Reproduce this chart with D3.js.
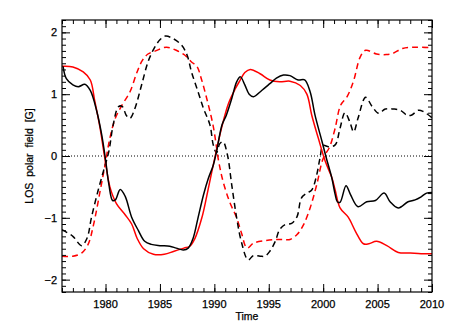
<!DOCTYPE html>
<html>
<head>
<meta charset="utf-8">
<script src="https://cdn.jsdelivr.net/npm/d3@7"></script>
<style>
  body { margin: 0; background: #fff; }
  svg text { font-family: "Liberation Sans", Arial, sans-serif; fill: #000; stroke: #000; stroke-width: 0.25; }
</style>
</head>
<body>
<div id="chart"></div>
<script>
// Series: [year, field in G]
const blackSolid = [
  [1976.1, 1.45], [1976.4, 1.25], [1977.0, 1.15], [1977.5, 1.12], [1978.1, 1.16], [1978.6, 1.06],
  [1979.2, 0.72], [1979.65, 0.34], [1980.0, -0.06], [1980.3, -0.45], [1980.65, -0.72], [1980.9, -0.71],
  [1981.35, -0.54], [1981.8, -0.65], [1982.4, -0.99], [1983.0, -1.2], [1983.6, -1.38], [1984.2, -1.43],
  [1985.0, -1.45], [1985.9, -1.46], [1986.5, -1.49], [1987.15, -1.52], [1987.6, -1.49], [1988.05, -1.33],
  [1988.5, -1.0], [1989.0, -0.63], [1989.45, -0.36], [1989.9, -0.15], [1990.2, 0.07], [1990.7, 0.5],
  [1991.1, 0.66], [1991.6, 0.93], [1992.05, 1.2], [1992.4, 1.28], [1992.8, 1.15], [1993.2, 1.0],
  [1993.6, 0.96], [1994.35, 1.06], [1995.1, 1.17], [1995.7, 1.26], [1996.35, 1.31], [1996.95, 1.30],
  [1997.7, 1.23], [1998.3, 1.23], [1998.8, 1.04], [1999.25, 0.66], [1999.9, 0.23], [2000.3, -0.04],
  [2000.8, -0.36], [2001.1, -0.62], [2001.3, -0.74], [2001.55, -0.75], [2002.1, -0.48], [2002.5, -0.62],
  [2003.2, -0.82], [2004.0, -0.74], [2004.8, -0.72], [2005.6, -0.60], [2006.15, -0.74], [2006.9, -0.84],
  [2007.8, -0.74], [2008.45, -0.71], [2009.0, -0.66], [2009.5, -0.60], [2010.0, -0.59]
];

const redSolid = [
  [1976.0, 1.45], [1977.0, 1.44], [1977.95, 1.36], [1978.6, 1.23], [1979.0, 0.9], [1979.5, 0.45],
  [1979.95, -0.05], [1980.4, -0.5], [1981.0, -0.77], [1981.8, -0.95], [1982.4, -1.1], [1982.9, -1.33],
  [1983.5, -1.5], [1984.4, -1.59], [1985.4, -1.59], [1986.3, -1.54], [1987.2, -1.49], [1987.75, -1.46],
  [1988.2, -1.34], [1988.85, -1.0], [1989.3, -0.65], [1989.75, -0.27], [1990.2, 0.1], [1990.7, 0.48],
  [1991.3, 0.85], [1991.9, 1.08], [1992.35, 1.22], [1992.8, 1.35], [1993.3, 1.40], [1994.2, 1.33],
  [1995.1, 1.23], [1996.0, 1.20], [1996.95, 1.21], [1997.9, 1.14], [1998.5, 1.0], [1998.95, 0.66],
  [1999.55, 0.29], [2000.2, -0.09], [2000.8, -0.35], [2001.1, -0.55], [2001.55, -0.84], [2002.3, -0.99],
  [2003.0, -1.23], [2003.7, -1.42], [2004.2, -1.42], [2004.9, -1.38], [2005.85, -1.45], [2006.9, -1.56],
  [2008.0, -1.57], [2009.0, -1.58], [2010.0, -1.58]
];

const blackDashed = [
  [1976.0, -1.19], [1977.0, -1.30], [1977.8, -1.45], [1978.3, -1.33], [1978.7, -1.0], [1979.3, -0.57],
  [1979.8, -0.25], [1980.3, 0.07], [1980.7, 0.5], [1981.2, 0.80], [1981.55, 0.80], [1981.9, 0.66],
  [1982.25, 0.61], [1982.7, 0.77], [1983.3, 1.14], [1983.9, 1.52], [1984.4, 1.72], [1985.0, 1.88],
  [1985.5, 1.94], [1986.2, 1.90], [1987.0, 1.79], [1987.5, 1.63], [1987.9, 1.36], [1988.5, 1.04],
  [1989.0, 0.77], [1989.6, 0.5], [1989.9, 0.18], [1990.2, 0.05], [1990.5, 0.2], [1990.8, 0.23],
  [1991.2, 0.02], [1991.6, -0.47], [1992.05, -1.0], [1992.5, -1.4], [1993.1, -1.68], [1993.6, -1.61],
  [1994.2, -1.62], [1994.65, -1.62], [1995.1, -1.54], [1995.6, -1.38], [1996.0, -1.19], [1996.5, -1.11],
  [1997.1, -1.09], [1997.6, -0.98], [1998.0, -0.68], [1998.5, -0.60], [1998.95, -0.55], [1999.4, -0.31],
  [1999.7, -0.04], [2000.0, 0.17], [2000.5, 0.15], [2001.1, 0.18], [2001.55, 0.45], [2002.0, 0.70],
  [2002.45, 0.55], [2002.8, 0.39], [2003.2, 0.61], [2003.9, 0.95], [2004.5, 0.80], [2005.1, 0.69],
  [2005.7, 0.76], [2006.45, 0.76], [2007.1, 0.74], [2007.7, 0.66], [2008.1, 0.66], [2008.75, 0.74],
  [2009.2, 0.72], [2010.0, 0.62]
];

const redDashed = [
  [1976.0, -1.62], [1977.0, -1.62], [1977.8, -1.57], [1978.4, -1.43], [1978.9, -1.11], [1979.5, -0.57],
  [1979.95, -0.15], [1980.4, 0.29], [1980.9, 0.61], [1981.5, 0.82], [1982.25, 1.04], [1982.9, 1.36],
  [1983.4, 1.55], [1983.9, 1.65], [1984.6, 1.70], [1985.6, 1.76], [1986.5, 1.71], [1987.3, 1.63],
  [1987.9, 1.52], [1988.4, 1.45], [1988.8, 1.25], [1989.3, 0.93], [1989.9, 0.48], [1990.4, -0.09],
  [1990.8, -0.41], [1991.4, -0.74], [1992.05, -1.0], [1992.5, -1.25], [1993.0, -1.49], [1993.6, -1.41],
  [1994.65, -1.37], [1995.6, -1.35], [1996.35, -1.35], [1996.95, -1.35], [1997.6, -1.27], [1998.2, -1.11],
  [1998.8, -0.84], [1999.4, -0.47], [2000.0, -0.04], [2000.6, 0.15], [2001.1, 0.45], [2001.6, 0.82],
  [2002.2, 0.96], [2002.8, 1.22], [2003.4, 1.6], [2003.9, 1.71], [2004.9, 1.65], [2005.8, 1.64],
  [2006.4, 1.66], [2007.3, 1.74], [2008.6, 1.76], [2010.0, 1.75]
];

const xTicks = [1980, 1985, 1990, 1995, 2000, 2005, 2010];
const yTicks = [-2, -1, 0, 1, 2];

const width = 451, height = 332;
const margin = { top: 20, right: 19, bottom: 40, left: 62 };

const svg = d3.select("#chart").append("svg")
  .attr("width", width)
  .attr("height", height);

const x = d3.scaleLinear().domain([1976, 2010]).range([margin.left, width - margin.right]);
const y = d3.scaleLinear().domain([-2.2, 2.2]).range([height - margin.bottom, margin.top]);

const x0 = margin.left, x1 = width - margin.right;
const y0 = margin.top, y1 = height - margin.bottom;

// Clip so curves stay inside the frame
svg.append("clipPath").attr("id", "plot")
  .append("rect").attr("x", x0).attr("y", y0).attr("width", x1 - x0).attr("height", y1 - y0);

// Zero line (dotted)
svg.append("line")
  .attr("x1", x0).attr("x2", x1)
  .attr("y1", y(0)).attr("y2", y(0))
  .attr("stroke", "#000").attr("stroke-width", 1)
  .attr("stroke-dasharray", "1,2");

const line = d3.line()
  .x((d) => x(d[0]))
  .y((d) => y(d[1]))
  .curve(d3.curveCatmullRom.alpha(0.5));

const series = [
  { data: redDashed, color: "#ff0000", dash: "6,4" },
  { data: blackDashed, color: "#000", dash: "6,4" },
  { data: redSolid, color: "#ff0000", dash: null },
  { data: blackSolid, color: "#000", dash: null },
];

svg.append("g").attr("clip-path", "url(#plot)")
  .selectAll("path")
  .data(series)
  .join("path")
  .attr("d", (s) => line(s.data))
  .attr("fill", "none")
  .attr("stroke", (s) => s.color)
  .attr("stroke-width", 1.5)
  .attr("stroke-dasharray", (s) => s.dash);

// Axes: ticks inward on all four sides, minor ticks every year / 0.1 G
const xMinor = d3.range(1976, 2010.01, 1);
const yMinor = d3.range(-22, 23).map((v) => v / 10);

const frame = svg.append("g");

frame.append("g").attr("transform", `translate(0,${y1})`)
  .call(d3.axisTop(x).tickValues(xTicks).tickSize(8).tickFormat(""));
frame.append("g").attr("transform", `translate(0,${y1})`)
  .call(d3.axisTop(x).tickValues(xMinor).tickSize(4).tickFormat(""));
frame.append("g").attr("transform", `translate(0,${y0})`)
  .call(d3.axisBottom(x).tickValues(xTicks).tickSize(8).tickFormat(""));
frame.append("g").attr("transform", `translate(0,${y0})`)
  .call(d3.axisBottom(x).tickValues(xMinor).tickSize(4).tickFormat(""));

frame.append("g").attr("transform", `translate(${x0},0)`)
  .call(d3.axisRight(y).tickValues(yTicks).tickSize(8).tickFormat(""));
frame.append("g").attr("transform", `translate(${x0},0)`)
  .call(d3.axisRight(y).tickValues(yMinor).tickSize(4).tickFormat(""));
frame.append("g").attr("transform", `translate(${x1},0)`)
  .call(d3.axisLeft(y).tickValues(yTicks).tickSize(8).tickFormat(""));
frame.append("g").attr("transform", `translate(${x1},0)`)
  .call(d3.axisLeft(y).tickValues(yMinor).tickSize(4).tickFormat(""));

frame.selectAll(".domain").remove();
frame.selectAll(".tick line").attr("stroke", "#000").attr("stroke-width", 1);

frame.append("rect")
  .attr("x", x0).attr("y", y0)
  .attr("width", x1 - x0).attr("height", y1 - y0)
  .attr("fill", "none").attr("stroke", "#000").attr("stroke-width", 1.2);

// Tick labels
svg.append("g").selectAll("text")
  .data(xTicks)
  .join("text")
  .attr("x", (d) => x(d))
  .attr("y", y1 + 16)
  .attr("text-anchor", "middle")
  .attr("font-size", 11)
  .text((d) => d);

svg.append("g").selectAll("text")
  .data(yTicks)
  .join("text")
  .attr("x", x0 - 5)
  .attr("y", (d) => y(d) + 4)
  .attr("text-anchor", "end")
  .attr("font-size", 11)
  .text((d) => (d < 0 ? "\u2212" + Math.abs(d) : d));

// Axis titles
svg.append("text")
  .attr("x", x((1976 + 2010) / 2))
  .attr("y", y1 + 28)
  .attr("text-anchor", "middle")
  .attr("font-size", 10.5)
  .text("Time");

svg.append("text")
  .attr("transform", `translate(33,${y(0)}) rotate(-90)`)
  .attr("text-anchor", "middle")
  .attr("font-size", 10.5)
  .attr("word-spacing", 3)
  .text("LOS polar field [G]");
</script>
</body>
</html>
